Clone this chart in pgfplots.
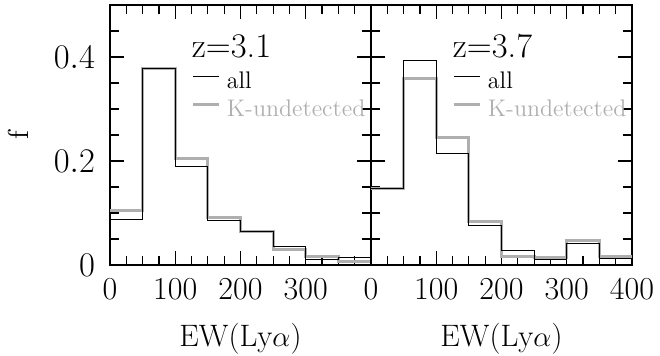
\documentclass[border=0pt]{standalone}
\usepackage{pgfplots}
\pgfplotsset{compat=1.18}
\definecolor{kgray}{RGB}{175,175,175}
\pgfplotstableread{
x all kund
0   0.088 0.105
50  0.378 0.378
100 0.190 0.204
150 0.085 0.092
200 0.065 0.065
250 0.035 0.029
300 0.011 0.016
350 0.014 0.006
400 0.014 0.006
}\zthreeone
\pgfplotstableread{
x all kund
0   0.148 0.148
50  0.394 0.359
100 0.214 0.246
150 0.076 0.083
200 0.027 0.016
250 0.010 0.015
300 0.042 0.048
350 0.012 0.017
400 0.012 0.017
}\zthreeseven
\begin{document}
\begin{tikzpicture}
\useasboundingbox (0,0) rectangle (330pt,178pt);
\pgfplotsset{
  hist/.style={
    scale only axis, width=130.5pt, height=130pt, anchor=south west,
    xmin=0, xmax=400, ymin=0, ymax=0.5,
    xtick={0,100,200,300,400}, minor x tick num=3,
    ytick={0,0.2,0.4}, minor ytick={0.05,0.1,0.15,0.25,0.3,0.35,0.45},
    tick align=inside, major tick length=7pt, minor tick length=4.5pt,
    axis line style={line width=0.9pt},
    every tick/.style={line width=0.6pt, black},
    ticklabel style={font=\fontsize{16}{19}\selectfont},
    xticklabel style={yshift=-3pt},
    yticklabel style={xshift=-4pt},
    xlabel={EW(Ly$\alpha$)},
    xlabel style={font=\fontsize{15.5}{18}\selectfont, at={(axis description cs:0.5,0)}, anchor=base, inner sep=0pt, yshift=-41pt},
    legend style={draw=none, fill=none, font=\fontsize{12}{14}\selectfont,
      at={(axis cs:125,0.372)}, anchor=north west, inner sep=0pt,
      nodes={inner sep=0pt}, column sep=3pt, row sep=4.2pt},
    legend cell align=left,
    legend image code/.code={\draw[##1] (0pt,2.6pt) -- (13pt,2.6pt);},
  }
}
\begin{axis}[hist, at={(55pt,45.5pt)},
  xticklabels={0,100,200,300,{}},
  ylabel={f}, ylabel style={font=\Large, at={(axis description cs:-0.35,0.5)}, anchor=center}]
\addplot[const plot, kgray, line width=1.5pt, forget plot] table[x=x,y=kund] {\zthreeone};
\addplot[const plot, black, line width=0.5pt, forget plot] table[x=x,y=all] {\zthreeone};
\addlegendimage{black, line width=0.5pt}
\addlegendentry{all}
\addlegendimage{kgray, line width=1.5pt}
\addlegendentry{\textcolor{kgray}{K-undetected}}
\node[anchor=base west, inner sep=0pt, font=\LARGE] at (axis cs:125,0.399) {z=3.1};
\end{axis}
\begin{axis}[hist, at={(185.5pt,45.5pt)},
  xticklabels={0,100,200,300,400}, yticklabels={}]
\addplot[const plot, kgray, line width=1.5pt, forget plot] table[x=x,y=kund] {\zthreeseven};
\addplot[const plot, black, line width=0.5pt, forget plot] table[x=x,y=all] {\zthreeseven};
\addlegendimage{black, line width=0.5pt}
\addlegendentry{all}
\addlegendimage{kgray, line width=1.5pt}
\addlegendentry{\textcolor{kgray}{K-undetected}}
\node[anchor=base west, inner sep=0pt, font=\LARGE] at (axis cs:125,0.399) {z=3.7};
\end{axis}
\end{tikzpicture}
\end{document}
